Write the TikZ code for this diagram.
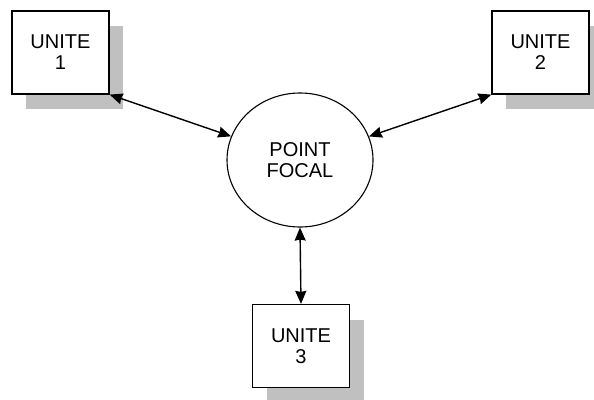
\documentclass[tikz,border=0pt]{standalone}
\usepackage{fontspec}
\setmainfont{Liberation Sans}
\usetikzlibrary{shapes.geometric,shadows,arrows.meta}
\definecolor{shadowgray}{RGB}{192,192,192}
\begin{document}
\begin{tikzpicture}[x=1pt,y=-1pt,
  unitbox/.style={draw=black, line width=1.2pt, fill=white, minimum width=97pt, minimum height=83pt, inner sep=0pt, align=center,
    font=\fontsize{20}{21}\selectfont,
    drop shadow={shadow xshift=14pt, shadow yshift=-15pt, fill=shadowgray, opacity=1}},
  focal/.style={draw=black, line width=1.1pt, ellipse, fill=white, minimum width=146pt, minimum height=134pt, inner sep=0pt, align=center,
    font=\fontsize{20}{21}\selectfont},
  link/.style={line width=1.4pt, {Stealth[length=13pt,width=11pt,inset=1pt]}-{Stealth[length=13pt,width=11pt,inset=1pt]}}
]
\useasboundingbox (0,0) rectangle (594,399);
\clip (0,0) rectangle (594,399);
\node[unitbox] (u1) at (60.5,52.5) {UNITE\\1};
\node[unitbox] (u2) at (540.5,52.5) {UNITE\\2};
\node[unitbox] (u3) at (301,346) {UNITE\\3};
\node[focal] (pf) at (300,160) {POINT\\FOCAL};
\draw[link] (u1.south east) -- (pf);
\draw[link] (u2.south west) -- (pf);
\draw[link] (pf.south) -- (u3.north);
\end{tikzpicture}
\end{document}
